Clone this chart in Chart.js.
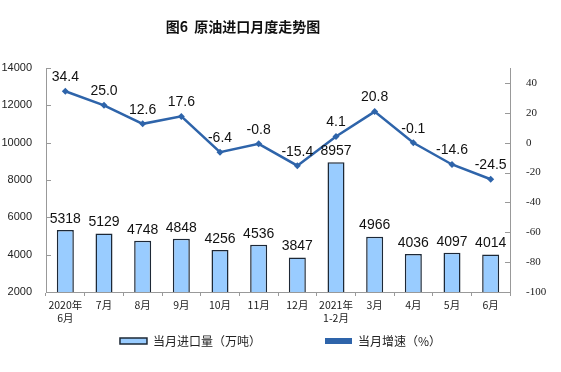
<!DOCTYPE html>
<html>
<head>
<meta charset="utf-8">
<script src="https://cdn.jsdelivr.net/npm/chart.js@4"></script>
<style>
  html,body{margin:0;padding:0;background:#fff;}
  #wrap{position:relative;width:561px;height:372px;}
  #title{position:absolute;left:0;width:486px;top:16px;text-align:center;
    font:bold 14px "Noto Sans CJK SC",sans-serif;color:#111;}
</style>
</head>
<body>
<div id="wrap">
  <div id="title">图6&nbsp;&nbsp;原油进口月度走势图</div>
  <canvas id="c" width="561" height="372"></canvas>
</div>
<script>
  const months = [["2020年","6月"],"7月","8月","9月","10月","11月","12月",["2021年","1-2月"],"3月","4月","5月","6月"];
  const imports = [5318,5129,4748,4848,4256,4536,3847,8957,4966,4036,4097,4014];
  const growth = [34.4,25.0,12.6,17.6,-6.4,-0.8,-15.4,4.1,20.8,-0.1,-14.6,-24.5];
  const leftTicks = [2000,4000,6000,8000,10000,12000,14000];
  const rightTicks = [-100,-80,-60,-40,-20,0,20,40];

  const numFont = '"Liberation Sans",Arial,sans-serif';
  const cjkFont = '"Noto Sans CJK SC",sans-serif';

  // value labels on bars and points
  const valueLabels = {
    id:"valueLabels",
    afterDatasetsDraw(chart){
      const ctx = chart.ctx;
      ctx.save();
      ctx.fillStyle = "#111";
      ctx.font = "14px " + numFont;
      ctx.textAlign = "center";
      ctx.textBaseline = "bottom";
      chart.data.datasets.forEach((ds, i)=>{
        const meta = chart.getDatasetMeta(i);
        meta.data.forEach((el, j)=>{
          const isLine = ds.type === "line";
          const txt = isLine ? ds.data[j].toFixed(1) : String(ds.data[j]);
          ctx.fillText(txt, el.x, el.y - (isLine ? 7 : 4));
        });
      });
      ctx.restore();
    }
  };

  // small tick marks pointing into the plot on both value axes
  const innerTicks = {
    id:"innerTicks",
    afterDraw(chart){
      const ctx = chart.ctx;
      ctx.save();
      ctx.strokeStyle = "#999";
      ctx.lineWidth = 1;
      ["y","y1"].forEach(id=>{
        const s = chart.scales[id];
        const x0 = id === "y" ? s.right : s.left;
        const dir = id === "y" ? 1 : -1;
        s.ticks.forEach(t=>{
          const py = Math.round(s.getPixelForValue(t.value)) + 0.5;
          ctx.beginPath();
          ctx.moveTo(x0, py);
          ctx.lineTo(x0 + dir*5, py);
          ctx.stroke();
        });
      });
      ctx.restore();
    }
  };

  new Chart(document.getElementById("c"), {
    data:{
      labels: months,
      datasets:[
        { type:"line", label:"当月增速（%）", data:growth, yAxisID:"y1",
          borderColor:"#2E64AA", backgroundColor:"#2E64AA", borderWidth:2.5,
          pointStyle:"rectRot", pointRadius:3.5, pointBackgroundColor:"#2E64AA",
          pointBorderWidth:0, tension:0, order:0 },
        { type:"bar", label:"当月进口量（万吨）", data:imports, yAxisID:"y",
          backgroundColor:"#99CCFF", borderColor:"#1d2836", borderWidth:1.5,
          barPercentage:0.44, categoryPercentage:1, order:1 }
      ]
    },
    options:{
      responsive:false,
      animation:false,
      layout:{ padding:{ top:68, left:0, right:0, bottom:15 } },
      scales:{
        x:{
          grid:{ display:true, drawOnChartArea:false, tickLength:4, color:"#999", offset:true },
          border:{ color:"#999" },
          ticks:{ color:"#222", font:{ family:cjkFont, size:10.5 }, padding:3, maxRotation:0, autoSkip:false },
          afterFit(s){ s.height = 33; }
        },
        y:{
          position:"left", min:2000, max:14000,
          grid:{ display:false },
          border:{ color:"#999" },
          afterBuildTicks(s){ s.ticks = leftTicks.map(v=>({value:v})); },
          ticks:{ color:"#222", font:{ family:numFont, size:11 }, padding:6, callback:v=>String(v) },
          afterFit(s){ s.width = 46; }
        },
        y1:{
          position:"right", min:-100, max:50,
          grid:{ display:false },
          border:{ color:"#999" },
          afterBuildTicks(s){ s.ticks = rightTicks.map(v=>({value:v})); },
          ticks:{ color:"#222", font:{ family:'"Liberation Serif","Times New Roman",serif', size:11 }, padding:8, callback:v=>String(v) },
          afterFit(s){ s.width = 51; }
        }
      },
      plugins:{
        legend:{
          position:"bottom",
          reverse:true,
          labels:{
            boxWidth:27, boxHeight:6, padding:10,
            color:"#222", font:{ family:cjkFont, size:12 },
            generateLabels(chart){
              const items = Chart.defaults.plugins.legend.labels.generateLabels(chart);
              items.forEach(it=>{
                if(it.datasetIndex === 0){ it.lineWidth = 0; }
                // wider gap after the bar entry
                else { it.text += "\u3000\u3000\u3000\u3000\u3000"; }
              });
              return items;
            }
          }
        },
        tooltip:{ enabled:false }
      }
    },
    plugins:[valueLabels, innerTicks]
  });
</script>
</body>
</html>
